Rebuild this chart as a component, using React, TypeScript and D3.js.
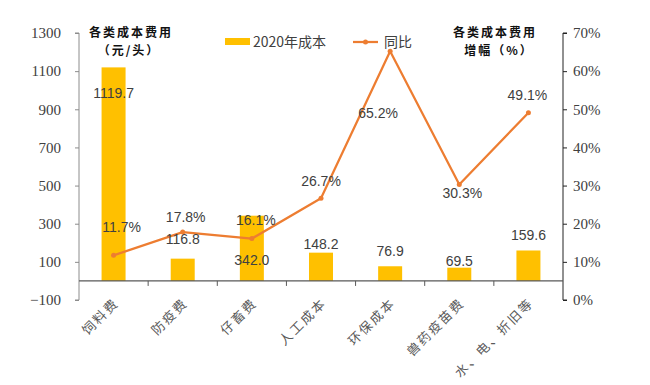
import React, { useEffect, useRef } from 'react';
import * as d3 from 'd3';

const categories = ['饲料费', '防疫费', '仔畜费', '人工成本', '环保成本', '兽药疫苗费', '水、电、折旧等'];
const costValues = [1119.7, 116.8, 342.0, 148.2, 76.9, 69.5, 159.6];
const yoyValues = [11.7, 17.8, 16.1, 26.7, 65.2, 30.3, 49.1];
const leftTicks = [-100, 100, 300, 500, 700, 900, 1100, 1300];
const rightTicks = [0, 10, 20, 30, 40, 50, 60, 70];

const BAR = '#FFC000';
const LINE = '#ED7D31';
const TEXT = '#404040';

const App: React.FC = () => {
  const ref = useRef<SVGSVGElement | null>(null);

  useEffect(() => {
    if (!ref.current) return;
    const svg = d3.select(ref.current);
    svg.selectAll('*').remove();

    const left = 79, right = 563, top = 33, bottom = 300;

    const x = d3.scaleBand<string>().domain(categories).range([left, right]).padding(0);
    const y = d3.scaleLinear().domain([-100, 1300]).range([bottom, top]);
    const y2 = d3.scaleLinear().domain([0, 70]).range([bottom, top]);
    const cx = (i: number) => (x(categories[i]) as number) + x.bandwidth() / 2;
    const barW = 24;

    // bars
    svg.append('g')
      .selectAll('rect')
      .data(costValues)
      .join('rect')
      .attr('x', (d, i) => cx(i) - barW / 2)
      .attr('y', d => y(d))
      .attr('width', barW)
      .attr('height', d => y(0) - y(d))
      .attr('fill', BAR);

    // left axis
    const gl = svg.append('g')
      .attr('transform', `translate(${left},0)`)
      .call(d3.axisLeft(y).tickValues(leftTicks).tickSize(4).tickFormat(d => d3.format('d')(d as number).replace('-', '−')));
    gl.select('.domain').attr('stroke', '#8c8c8c').attr('d', `M-4,${top}H0V${bottom}H-4`);
    gl.selectAll('.tick line').attr('stroke', '#8c8c8c');
    gl.selectAll('.tick text')
      .attr('x', -18)
      .attr('font-family', '"Liberation Serif", serif')
      .attr('font-size', 15)
      .attr('fill', TEXT);

    // right axis
    const gr = svg.append('g')
      .attr('transform', `translate(${right},0)`)
      .call(d3.axisRight(y2).tickValues(rightTicks).tickSize(4).tickFormat(d => `${d}%`));
    gr.select('.domain').attr('stroke', '#222').attr('d', `M4,${top}H0V${bottom}H4`);
    gr.selectAll('.tick line').attr('stroke', '#222');
    gr.selectAll('.tick text')
      .attr('x', 10)
      .attr('font-family', '"Liberation Serif", serif')
      .attr('font-size', 15)
      .attr('fill', TEXT);

    // category axis at zero
    const gb = svg.append('g').attr('transform', `translate(0,${y(0)})`);
    gb.append('line').attr('x1', left).attr('x2', right).attr('stroke', '#595959').attr('stroke-width', 1.2);
    gb.selectAll('line.tk')
      .data(categories.slice(1))
      .join('line')
      .attr('class', 'tk')
      .attr('x1', d => x(d) as number)
      .attr('x2', d => x(d) as number)
      .attr('y1', 0)
      .attr('y2', 5)
      .attr('stroke', '#595959');

    svg.append('g')
      .selectAll('text')
      .data(categories)
      .join('text')
      .attr('transform', (d, i) => `translate(${cx(i) + 6},${y(0) + 23}) rotate(-45)`)
      .attr('text-anchor', 'end')
      .attr('font-family', '"Noto Sans CJK SC", sans-serif')
      .attr('font-size', 13)
      .attr('letter-spacing', 2)
      .attr('fill', '#595959')
      .text(d => d);

    // line
    const line = d3.line<number>().x((d, i) => cx(i)).y(d => y2(d));
    svg.append('path')
      .datum(yoyValues)
      .attr('d', line)
      .attr('fill', 'none')
      .attr('stroke', LINE)
      .attr('stroke-width', 2.25)
      .attr('stroke-linejoin', 'round');
    svg.append('g')
      .selectAll('circle')
      .data(yoyValues)
      .join('circle')
      .attr('cx', (d, i) => cx(i))
      .attr('cy', d => y2(d))
      .attr('r', 2.5)
      .attr('fill', LINE);

    // bar labels
    const barDy = [31, -15, 49, -4, -10, -2, -10];
    svg.append('g')
      .selectAll('text')
      .data(costValues)
      .join('text')
      .attr('x', (d, i) => cx(i))
      .attr('y', (d, i) => y(d) + barDy[i])
      .attr('text-anchor', 'middle')
      .attr('font-family', '"Liberation Sans", sans-serif')
      .attr('font-size', 14)
      .attr('fill', TEXT)
      .text(d => d.toFixed(1));

    // line labels
    const lineDx = [8, 3, 4, 0, -12, 3, -1];
    const lineDy = [-23, -10, -14, -12, 67, 14, -13];
    svg.append('g')
      .selectAll('text')
      .data(yoyValues)
      .join('text')
      .attr('x', (d, i) => cx(i) + lineDx[i])
      .attr('y', (d, i) => y2(d) + lineDy[i])
      .attr('text-anchor', 'middle')
      .attr('font-family', '"Liberation Sans", sans-serif')
      .attr('font-size', 14)
      .attr('fill', TEXT)
      .text(d => `${d.toFixed(1)}%`);

    // axis titles
    const title = (tx: number, ty: number, s: string) =>
      svg.append('text')
        .attr('x', tx).attr('y', ty)
        .attr('text-anchor', 'middle')
        .attr('font-family', '"Noto Sans CJK SC", sans-serif')
        .attr('font-weight', 'bold')
        .attr('font-size', 12)
        .attr('letter-spacing', 2)
        .attr('fill', '#111')
        .text(s);
    title(131, 37, '各类成本费用');
    title(129, 55, '（元/头）');
    title(495, 37, '各类成本费用');
    title(499, 55, '增幅（%）');

    // legend
    const lg = svg.append('g');
    lg.append('rect').attr('x', 225).attr('y', 38).attr('width', 25).attr('height', 7).attr('fill', BAR);
    lg.append('text').attr('x', 253).attr('y', 47)
      .attr('font-family', '"Noto Sans CJK SC", sans-serif').attr('font-size', 14).attr('fill', TEXT)
      .text('2020年成本');
    lg.append('line').attr('x1', 353).attr('x2', 378).attr('y1', 42).attr('y2', 42)
      .attr('stroke', LINE).attr('stroke-width', 2.25);
    lg.append('circle').attr('cx', 365.5).attr('cy', 42).attr('r', 2.5).attr('fill', LINE);
    lg.append('text').attr('x', 384).attr('y', 47)
      .attr('font-family', '"Noto Sans CJK SC", sans-serif').attr('font-size', 14).attr('fill', TEXT)
      .text('同比');
  }, []);

  return (
    <svg ref={ref} width={650} height={385}
      style={{ position: 'absolute', left: 0, top: 0, background: '#fff' }} />
  );
};

export default App;
